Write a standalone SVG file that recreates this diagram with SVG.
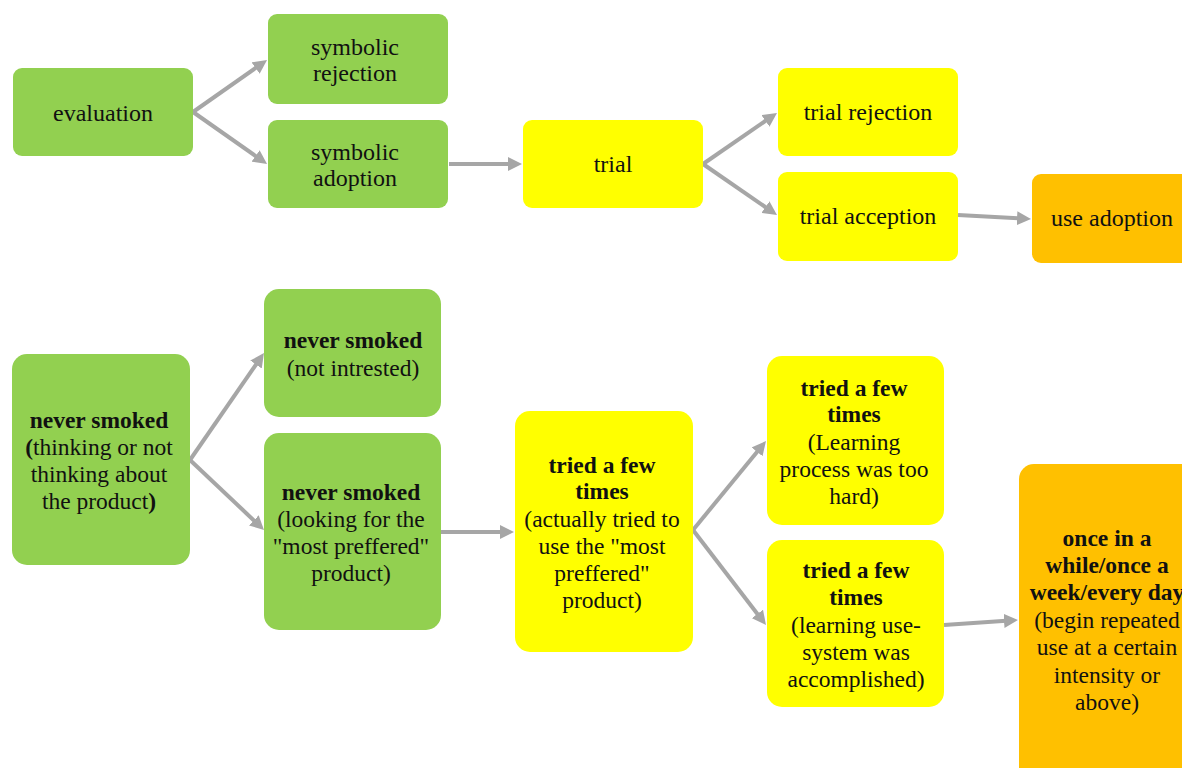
<svg xmlns="http://www.w3.org/2000/svg" width="1182" height="768" viewBox="0 0 1182 768">
<style>
.g{fill:#92D050}.y{fill:#FFFF00}.o{fill:#FFC000}
text{font-family:"Liberation Serif","Times New Roman",serif;fill:#111;text-anchor:middle}
.t{font-size:24px}.b{font-size:23.5px}.bd{font-weight:bold}
.c{stroke:#A6A6A6;stroke-width:4;fill:none;marker-end:url(#ah)}
</style>
<defs>
<marker id="ah" viewBox="0 0 14 14" refX="6" refY="7" markerWidth="14" markerHeight="14" markerUnits="userSpaceOnUse" orient="auto"><path d="M0,0 L14,7 L0,14 z" fill="#A6A6A6"/></marker>
</defs>
<g id="connectors">
<line class="c" x1="193" y1="112" x2="260.5" y2="64.6"/>
<line class="c" x1="193" y1="112" x2="260.5" y2="159.4"/>
<line class="c" x1="449" y1="164" x2="514" y2="164"/>
<line class="c" x1="703" y1="164" x2="770.4" y2="117.5"/>
<line class="c" x1="703" y1="164" x2="770.4" y2="210.5"/>
<line class="c" x1="958" y1="215" x2="1023" y2="218.6"/>
<line class="c" x1="190" y1="460" x2="259.4" y2="359.6"/>
<line class="c" x1="190" y1="460" x2="258.2" y2="524.5"/>
<line class="c" x1="441" y1="532" x2="506" y2="532"/>
<line class="c" x1="693" y1="530" x2="760.9" y2="447.2"/>
<line class="c" x1="693" y1="530" x2="761.1" y2="618.7"/>
<line class="c" x1="944" y1="625" x2="1010" y2="620.5"/>
</g>
<g id="evaluation"><rect class="g" x="13" y="68" width="180" height="88" rx="9"/><text class="t" x="103" y="121">evaluation</text></g>
<g id="symbolic-rejection"><rect class="g" x="268" y="14" width="180" height="90" rx="9"/><text class="t" x="355" y="55">symbolic</text><text class="t" x="355" y="81">rejection</text></g>
<g id="symbolic-adoption"><rect class="g" x="268" y="120" width="180" height="88" rx="9"/><text class="t" x="355" y="160">symbolic</text><text class="t" x="355" y="186">adoption</text></g>
<g id="trial"><rect class="y" x="523" y="120" width="180" height="88" rx="9"/><text class="t" x="613" y="172">trial</text></g>
<g id="trial-rejection"><rect class="y" x="778" y="68" width="180" height="88" rx="9"/><text class="t" x="868" y="120">trial rejection</text></g>
<g id="trial-acception"><rect class="y" x="778" y="172" width="180" height="89" rx="9"/><text class="t" x="868" y="224">trial acception</text></g>
<g id="use-adoption"><rect class="o" x="1032" y="174" width="180" height="89" rx="9"/><text class="t" x="1112" y="226">use adoption</text></g>

<g id="never-smoked-thinking"><rect class="g" x="12" y="354" width="178" height="211" rx="15"/>
<text class="b" x="99" y="428"><tspan class="bd">never smoked</tspan></text>
<text class="b" x="99" y="455"><tspan class="bd">(</tspan>thinking or not</text>
<text class="b" x="99" y="482">thinking about</text>
<text class="b" x="99" y="509">the product<tspan class="bd">)</tspan></text></g>
<g id="never-smoked-not-interested"><rect class="g" x="264" y="289" width="177" height="128" rx="15"/>
<text class="b bd" x="353" y="348">never smoked</text>
<text class="b" x="353" y="376">(not intrested)</text></g>
<g id="never-smoked-looking"><rect class="g" x="264" y="433" width="177" height="197" rx="15"/>
<text class="b bd" x="351" y="500">never smoked</text>
<text class="b" x="351" y="527">(looking for the</text>
<text class="b" x="351" y="554">"most preffered"</text>
<text class="b" x="351" y="581">product)</text></g>
<g id="tried-actually"><rect class="y" x="515" y="411" width="178" height="241" rx="15"/>
<text class="b bd" x="602" y="473">tried a few</text>
<text class="b bd" x="602" y="499">times</text>
<text class="b" x="602" y="527">(actually tried to</text>
<text class="b" x="602" y="554">use the "most</text>
<text class="b" x="602" y="581">preffered"</text>
<text class="b" x="602" y="608">product)</text></g>
<g id="tried-hard"><rect class="y" x="767" y="356" width="177" height="169" rx="15"/>
<text class="b bd" x="854" y="396">tried a few</text>
<text class="b bd" x="854" y="422">times</text>
<text class="b" x="854" y="450">(Learning</text>
<text class="b" x="854" y="477">process was too</text>
<text class="b" x="854" y="504">hard)</text></g>
<g id="tried-accomplished"><rect class="y" x="767" y="540" width="177" height="167" rx="15"/>
<text class="b bd" x="856" y="578">tried a few</text>
<text class="b bd" x="856" y="605">times</text>
<text class="b" x="856" y="633">(learning use-</text>
<text class="b" x="856" y="660">system was</text>
<text class="b" x="856" y="687">accomplished)</text></g>
<g id="repeated-use"><rect class="o" x="1019" y="464" width="180" height="320" rx="15"/>
<text class="b bd" x="1107" y="546">once in a</text>
<text class="b bd" x="1107" y="573">while/once a</text>
<text class="b bd" x="1107" y="600">week/every day</text>
<text class="b" x="1107" y="628">(begin repeated</text>
<text class="b" x="1107" y="655">use at a certain</text>
<text class="b" x="1107" y="683">intensity or</text>
<text class="b" x="1107" y="710">above)</text></g>
</svg>
